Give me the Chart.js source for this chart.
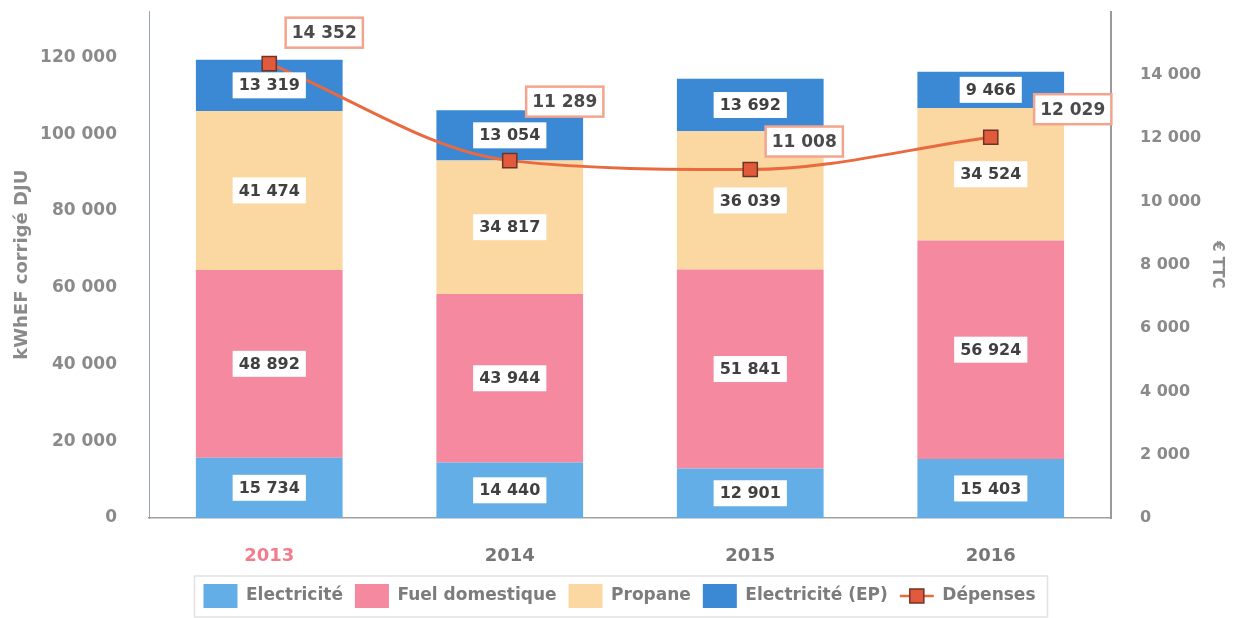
<!DOCTYPE html>
<html>
<head>
<meta charset="utf-8">
<script src="https://cdn.jsdelivr.net/npm/chart.js@4"></script>
<style>
  html,body{margin:0;padding:0;background:#fff;}
  #wrap{width:1239px;height:618px;position:relative;}
</style>
</head>
<body>
<div id="wrap"><canvas id="c" width="1239" height="618"></canvas></div>
<script>
const categories = ['2013', '2014', '2015', '2016'];
const electricite = [15734, 14440, 12901, 15403];
const fuelDomestique = [48892, 43944, 51841, 56924];
const propane = [41474, 34817, 36039, 34524];
const electriciteEP = [13319, 13054, 13692, 9466];
const depenses = [14352, 11289, 11008, 12029];
const leftTicks = [0, 20000, 40000, 60000, 80000, 100000, 120000];
const rightTicks = [0, 2000, 4000, 6000, 8000, 10000, 12000, 14000];

const FONT = "'DejaVu Sans', sans-serif";
const fmt = v => String(Math.round(v)).replace(/\B(?=(\d{3})+(?!\d))/g, ' ');

const labelPlugin = {
  id: 'valueLabels',
  afterDatasetsDraw(chart, args, opts) {
    const ctx = chart.ctx;
    ctx.save();
    ctx.font = "bold 16px " + FONT;
    ctx.textAlign = 'center';
    ctx.textBaseline = 'middle';
    chart.data.datasets.forEach((ds, di) => {
      const meta = chart.getDatasetMeta(di);
      if (meta.hidden) return;
      meta.data.forEach((el, i) => {
        const txt = fmt(ds.data[i]);
        const w = ctx.measureText(txt).width + 12;
        if (ds.type === 'line') {
          const off = opts.lineOffsets[i];
          const cx = el.x + off[0], cy = el.y + off[1];
          const h = 30, bw = w + 4;
          ctx.fillStyle = '#fff';
          ctx.fillRect(cx - bw / 2, cy - h / 2, bw, h);
          ctx.strokeStyle = '#f2a58c';
          ctx.lineWidth = 2.5;
          ctx.strokeRect(cx - bw / 2, cy - h / 2, bw, h);
          ctx.font = "bold 17px " + FONT;
          ctx.fillStyle = '#4a4a4a';
          ctx.fillText(txt, cx, cy + 1);
          ctx.font = "bold 16px " + FONT;
        } else {
          const cy = (el.y + el.base) / 2;
          const h = 26;
          ctx.fillStyle = '#fff';
          ctx.fillRect(el.x - w / 2, cy - h / 2, w, h);
          ctx.fillStyle = '#404040';
          ctx.fillText(txt, el.x, cy + 1);
        }
      });
    });
    ctx.restore();
  },
  afterDraw(chart) {
    const lg = chart.legend;
    if (!lg || !lg.legendHitBoxes) return;
    const ctx = chart.ctx;
    const hb = lg.legendHitBoxes;
    ctx.save();
    const l = Math.min(...hb.map(h => h.left)) - 9;
    const r = Math.max(...hb.map(h => h.left + h.width)) + 12;
    const t = hb[0].top - 8, b = hb[0].top + hb[0].height + 9;
    ctx.strokeStyle = '#e2e2e2';
    ctx.lineWidth = 1.5;
    ctx.strokeRect(l, t, r - l, b - t);
    const idx = lg.legendItems.findIndex(it => it.text === 'Dépenses');
    const box = hb[idx];
    const bw = 34, cy = box.top + box.height / 2;
    ctx.strokeStyle = '#ea6a40';
    ctx.lineWidth = 2.5;
    ctx.beginPath();
    ctx.moveTo(box.left, cy);
    ctx.lineTo(box.left + bw, cy);
    ctx.stroke();
    ctx.fillStyle = '#e25a3c';
    ctx.strokeStyle = '#6d3426';
    ctx.lineWidth = 1.5;
    ctx.fillRect(box.left + bw / 2 - 7, cy - 7, 14, 14);
    ctx.strokeRect(box.left + bw / 2 - 7, cy - 7, 14, 14);
    ctx.restore();
  }
};

new Chart(document.getElementById('c'), {
  type: 'bar',
  data: {
    labels: categories,
    datasets: [
      { label: 'Electricité', data: electricite, backgroundColor: '#64aee8', yAxisID: 'y', stack: 's', order: 1, borderWidth: 0 },
      { label: 'Fuel domestique', data: fuelDomestique, backgroundColor: '#f4899f', yAxisID: 'y', stack: 's', order: 1, borderWidth: 0 },
      { label: 'Propane', data: propane, backgroundColor: '#fbd7a2', yAxisID: 'y', stack: 's', order: 1, borderWidth: 0 },
      { label: 'Electricité (EP)', data: electriciteEP, backgroundColor: '#3b88d4', yAxisID: 'y', stack: 's', order: 1, borderWidth: 0 },
      { type: 'line', label: 'Dépenses', data: depenses, yAxisID: 'y1', order: 0,
        borderColor: '#ea6a40', borderWidth: 3, cubicInterpolationMode: 'monotone',
        pointStyle: 'rect', pointRadius: 10, pointBackgroundColor: '#e25a3c',
        pointBorderColor: '#6d3426', pointBorderWidth: 1.5, backgroundColor: '#e25a3c' }
    ]
  },
  options: {
    responsive: false,
    animation: false,
    devicePixelRatio: 1,
    layout: { padding: { top: 10, left: 0, right: 0, bottom: 0 } },
    datasets: { bar: { categoryPercentage: 1, barPercentage: 0.61 } },
    plugins: {
      legend: {
        position: 'bottom',
        labels: {
          boxWidth: 34, boxHeight: 24, padding: 12,
          color: '#7c7c7c',
          font: { family: FONT, size: 17, weight: 'bold' },
          sort: (a, b) => a.datasetIndex - b.datasetIndex,
          generateLabels(chart) {
            const items = Chart.defaults.plugins.legend.labels.generateLabels(chart);
            items.forEach(it => {
              it.lineWidth = 0;
              if (it.text === 'Dépenses') {
                it.fillStyle = 'rgba(0,0,0,0)';
                it.strokeStyle = 'rgba(0,0,0,0)';
              }
            });
            return items;
          }
        }
      },
      tooltip: { enabled: false },
      valueLabels: { lineOffsets: [[55, -31], [55, -59], [54, -28], [82, -28]] }
    },
    scales: {
      x: {
        stacked: true,
        grid: { display: false },
        border: { display: true, color: '#a0a0a0', width: 1.5 },
        ticks: {
          padding: 20,
          font: { family: FONT, size: 18, weight: 'bold' },
          color: ctx => ctx.index === 0 ? '#f27b8c' : '#767676'
        },
        afterFit(s) { s.height = 54; }
      },
      y: {
        position: 'left',
        stacked: true,
        min: 0, max: 132000,
        grid: { display: false },
        border: { display: true, color: '#9aa2b8', width: 1, dash: [3, 3] },
        ticks: {
          padding: 24,
          color: '#8a8a8a',
          font: { family: FONT, size: 17, weight: 'bold' },
          callback: v => fmt(v)
        },
        afterBuildTicks(s) { s.ticks = leftTicks.map(v => ({ value: v })); },
        afterFit(s) { s.width = 149; s.paddingTop = 0; s.paddingBottom = 0; },
        title: {
          display: true, text: 'kWhEF corrigé DJU', color: '#8a8a8a',
          font: { family: FONT, size: 18, weight: 'bold' },
          padding: { top: 12, bottom: 0 }
        }
      },
      y1: {
        position: 'right',
        min: 0, max: 16000,
        grid: { display: false },
        border: { display: true, color: '#9a9a9a', width: 2 },
        ticks: {
          padding: 21,
          color: '#8a8a8a',
          font: { family: FONT, size: 16, weight: 'bold' },
          callback: v => fmt(v)
        },
        afterBuildTicks(s) { s.ticks = rightTicks.map(v => ({ value: v })); },
        afterFit(s) { s.width = 128; s.paddingTop = 0; s.paddingBottom = 0; },
        title: {
          display: true, text: '€ TTC', color: '#8a8a8a',
          font: { family: FONT, size: 15, weight: 'bold' },
          padding: { top: 13, bottom: 0 }
        }
      }
    }
  },
  plugins: [labelPlugin]
});
</script>
</body>
</html>
